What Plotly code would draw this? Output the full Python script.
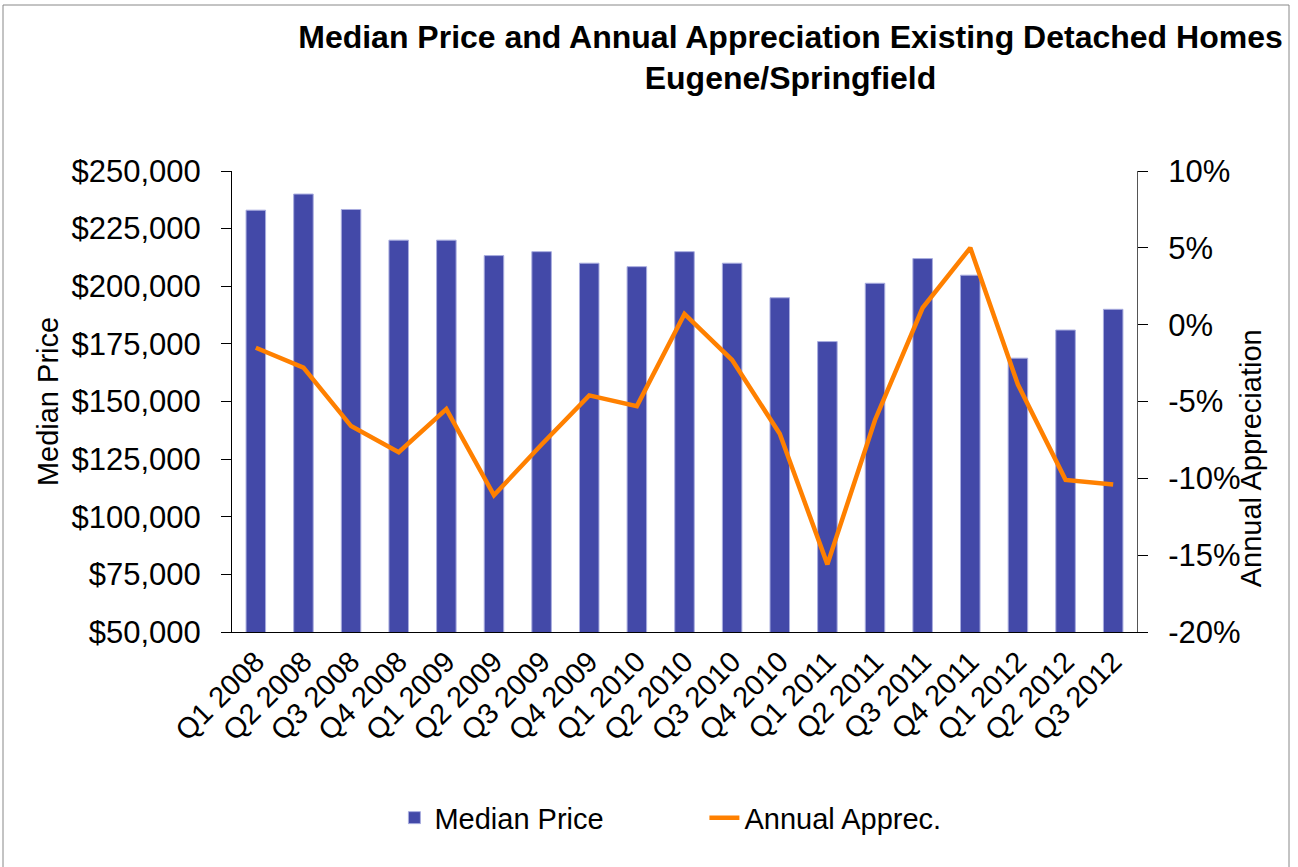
import plotly.graph_objects as go

quarters = ["Q1 2008", "Q2 2008", "Q3 2008", "Q4 2008", "Q1 2009", "Q2 2009", "Q3 2009",
            "Q4 2009", "Q1 2010", "Q2 2010", "Q3 2010", "Q4 2010", "Q1 2011", "Q2 2011",
            "Q3 2011", "Q4 2011", "Q1 2012", "Q2 2012", "Q3 2012"]
median_price = [233000, 240000, 233300, 220000, 220000, 213300, 215000,
                210000, 208500, 215000, 210000, 195000, 176000, 201300,
                212000, 204800, 168800, 181000, 190000]
annual_apprec = [-0.015, -0.028, -0.066, -0.083, -0.055, -0.111, -0.078,
                 -0.046, -0.053, 0.007, -0.023, -0.071, -0.156, -0.062,
                 0.011, 0.050, -0.039, -0.101, -0.104]

pct_tick_vals = [-0.20, -0.15, -0.10, -0.05, 0.0, 0.05, 0.10]
pct_tick_text = ["-20%", "-15%", "-10%", "-5%", "0%", "5%", "10%"]

title_text = "Median Price and Annual Appreciation Existing Detached Homes<br>Eugene/Springfield"
font_family = "Liberation Sans, Arial, sans-serif"

fig = go.Figure()
fig.add_trace(go.Bar(
    x=quarters, y=median_price, name="Median Price",
    marker=dict(color="#4349A8", line=dict(color="#A9ADDF", width=1)),
    yaxis="y",
))
fig.add_trace(go.Scatter(
    x=quarters, y=annual_apprec, name="Annual Apprec.", mode="lines",
    line=dict(color="#FF8000", width=4.5),
    yaxis="y2",
))

fig.update_layout(
    width=1298, height=867,
    margin=dict(l=232, r=161, t=171, b=235),
    paper_bgcolor="white", plot_bgcolor="white",
    font=dict(family=font_family, size=29, color="black"),
    bargap=0.59,
    title=dict(text=title_text, x=0.609, xanchor="center", xref="container",
               y=0.945, yanchor="top", yref="container",
               font=dict(family=font_family, size=32, color="black", weight="bold")),
    xaxis=dict(
        type="category", tickangle=-45, showline=True, linecolor="black", linewidth=1,
        ticks="", showgrid=False, tickfont=dict(size=29),
    ),
    yaxis=dict(
        range=[50000, 250000], dtick=25000, tickprefix="$", tickformat=",.0f",
        showline=True, linecolor="black", linewidth=1, ticks="outside", ticklen=10,
        tickcolor="black", showgrid=False, zeroline=False, tickfont=dict(size=31),
        ticklabelstandoff=14,
        title=dict(text="Median Price", font=dict(size=29), standoff=4),
    ),
    yaxis2=dict(
        range=[-0.20, 0.10], tickmode="array", tickvals=pct_tick_vals, ticktext=pct_tick_text,
        overlaying="y", side="right",
        showline=True, linecolor="#555555", linewidth=1, ticks="outside", ticklen=10,
        tickcolor="black", showgrid=False, zeroline=False, tickfont=dict(size=31),
        ticklabelstandoff=14,
    ),
    legend=dict(orientation="h", x=0.522, xanchor="center", y=-0.403, yanchor="middle",
                font=dict(size=29), entrywidth=265, bgcolor="rgba(0,0,0,0)"),
    showlegend=True,
)

fig.add_annotation(text="Annual Appreciation", textangle=-90, xref="paper", yref="paper",
                   x=1.146, y=0.377, showarrow=False, font=dict(size=29))

fig.add_shape(type="rect", xref="paper", yref="paper",
              x0=(3 - 232) / 905, x1=(1289 - 232) / 905,
              y0=(632 - 880) / 461, y1=(632 - 5) / 461,
              line=dict(color="#888888", width=1), layer="below")

fig.write_html("out.html", config={"displayModeBar": False},
               post_script="document.body.style.margin='0';")
